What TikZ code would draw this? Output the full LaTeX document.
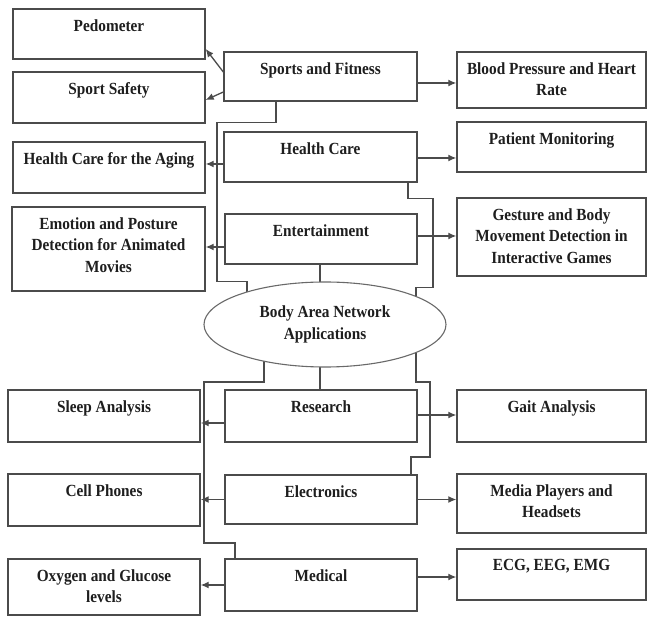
\documentclass[tikz,border=0pt]{standalone}
\usepackage{fontspec}
\setmainfont{Liberation Serif}[FakeStretch=0.9]
\usetikzlibrary{arrows.meta,shapes.geometric,backgrounds}
\definecolor{linec}{RGB}{75,75,75}
\definecolor{ellc}{RGB}{105,105,105}
\definecolor{txtc}{RGB}{30,30,30}
\begin{document}
\begin{tikzpicture}[x=1pt,y=-1pt,
  box/.style={draw=linec, line width=1.4pt, rectangle, inner sep=0pt},
  lab/.style={anchor=north, yshift=-11pt, inner sep=0pt, align=center, text=txtc, font=\bfseries\fontsize{17}{21.5}\selectfont},
  conn/.style={draw=linec, line width=1.3pt},
  arr/.style={conn, -{Latex[length=8pt,width=7pt]}},
]
\useasboundingbox (0,0) rectangle (648,617);

% left column
\node[box, minimum width=192pt, minimum height=50pt, label={[lab]north:Pedometer}] (ped) at (109,34) {};
\node[box, minimum width=192pt, minimum height=51pt, label={[lab]north:Sport Safety}] (safety) at (109,97.5) {};
\node[box, minimum width=192pt, minimum height=51pt, label={[lab]north:Health Care for the Aging}] (aging) at (109,167.5) {};
\node[box, minimum width=193pt, minimum height=84pt, label={[lab]north:Emotion and Posture\\Detection for Animated\\Movies}] (emotion) at (108.5,249) {};
\node[box, minimum width=192pt, minimum height=52pt, label={[lab]north:Sleep Analysis}] (sleep) at (104,416) {};
\node[box, minimum width=192pt, minimum height=52pt, label={[lab]north:Cell Phones}] (cell) at (104,500) {};
\node[box, minimum width=192pt, minimum height=56pt, label={[lab]north:Oxygen and Glucose\\levels}] (oxygen) at (104,587) {};

% middle column
\node[box, minimum width=193pt, minimum height=49pt, label={[lab]north:Sports and Fitness}] (sports) at (320.5,76.5) {};
\node[box, minimum width=193pt, minimum height=50pt, label={[lab]north:Health Care}] (health) at (320.5,157) {};
\node[box, minimum width=192pt, minimum height=50pt, label={[lab]north:Entertainment}] (ent) at (321,239) {};
\node[box, minimum width=192pt, minimum height=52pt, label={[lab]north:Research}] (research) at (321,416) {};
\node[box, minimum width=192pt, minimum height=49pt, label={[lab]north:Electronics}] (electronics) at (321,499.5) {};
\node[box, minimum width=192pt, minimum height=52pt, label={[lab]north:Medical}] (medical) at (321,585) {};

% right column
\node[box, minimum width=189pt, minimum height=56pt, label={[lab]north:Blood Pressure and Heart\\Rate}] (bp) at (551.5,80) {};
\node[box, minimum width=189pt, minimum height=50pt, label={[lab]north:Patient Monitoring}] (patient) at (551.5,147) {};
\node[box, minimum width=189pt, minimum height=78pt, label={[lab]north:Gesture and Body\\Movement Detection in\\Interactive Games}] (gesture) at (551.5,237) {};
\node[box, minimum width=189pt, minimum height=52pt, label={[lab]north:Gait Analysis}] (gait) at (551.5,416) {};
\node[box, minimum width=189pt, minimum height=59pt, label={[lab]north:Media Players and\\Headsets}] (media) at (551.5,503.5) {};
\node[box, minimum width=189pt, minimum height=51pt, label={[lab]north:{ECG, EEG, EMG}}] (ecg) at (551.5,574.5) {};

% central ellipse
\node[draw=ellc, line width=1.1pt, fill=white, ellipse, minimum width=242pt, minimum height=85pt, inner sep=0pt, align=center, text=txtc, font=\bfseries\fontsize{17}{22}\selectfont] (bodynet) at (325,324.5) {Body Area Network\\Applications};

% arrows
\draw[arr] ([yshift=4.5pt]sports.west) -- ([yshift=-15pt]ped.east);
\draw[arr] ([yshift=-15.5pt]sports.west) -- ([yshift=-2.5pt]safety.east);
\draw[arr] ([yshift=-6.5pt]sports.east) -- ([yshift=-6.5pt]sports.east -| bp.west);
\draw[arr] ([yshift=-7pt]health.west) -- ([yshift=-7pt]health.west -| aging.east);
\draw[arr] ([yshift=-1pt]health.east) -- ([yshift=-1pt]health.east -| patient.west);
\draw[arr] ([yshift=-8pt]ent.west) -- ([yshift=-8pt]ent.west -| emotion.east);
\draw[arr] ([yshift=3pt]ent.east) -- ([yshift=3pt]ent.east -| gesture.west);
\draw[arr] ([yshift=-7pt]research.west) -- ([yshift=-7pt]research.west -| sleep.east);
\draw[arr] ([yshift=1pt]research.east) -- ([yshift=1pt]research.east -| gait.west);
\draw[arr] (electronics.west) -- (electronics.west -| cell.east);
\draw[arr] (electronics.east) -- (electronics.east -| media.west);
\draw[arr] (medical.west) -- (medical.west -| oxygen.east);
\draw[arr] ([yshift=8pt]medical.east) -- ([yshift=8pt]medical.east -| ecg.west);

% tree lines
\begin{scope}[on background layer]
\draw[conn] ([xshift=-44.5pt]sports.south) -- ++(0,21) -- ++(-59,0) -- ++(0,159) -- ++(30,0) -- ([xshift=-78pt]bodynet.center);
\draw[conn] ([xshift=-1pt]ent.south) -- ([xshift=-1pt]ent.south |- bodynet.center);
\draw[conn] ([xshift=87.5pt]health.south) -- ++(0,16) -- ++(25,0) -- ++(0,89) -- ++(-17,0) -- ([xshift=91pt]bodynet.center);
\draw[conn] ([xshift=-61pt]bodynet.center) -- ++(0,57.5) -- ++(-60,0) -- ++(0,161) -- ++(31,0) -- ([xshift=-86pt]medical.north);
\draw[conn] ([xshift=-1pt]research.north |- bodynet.center) -- ([xshift=-1pt]research.north);
\draw[conn] ([xshift=91pt]bodynet.center) -- ++(0,57.5) -- ++(14,0) -- ++(0,75) -- ++(-19,0) -- ([xshift=90pt]electronics.north);
\end{scope}
\end{tikzpicture}
\end{document}
